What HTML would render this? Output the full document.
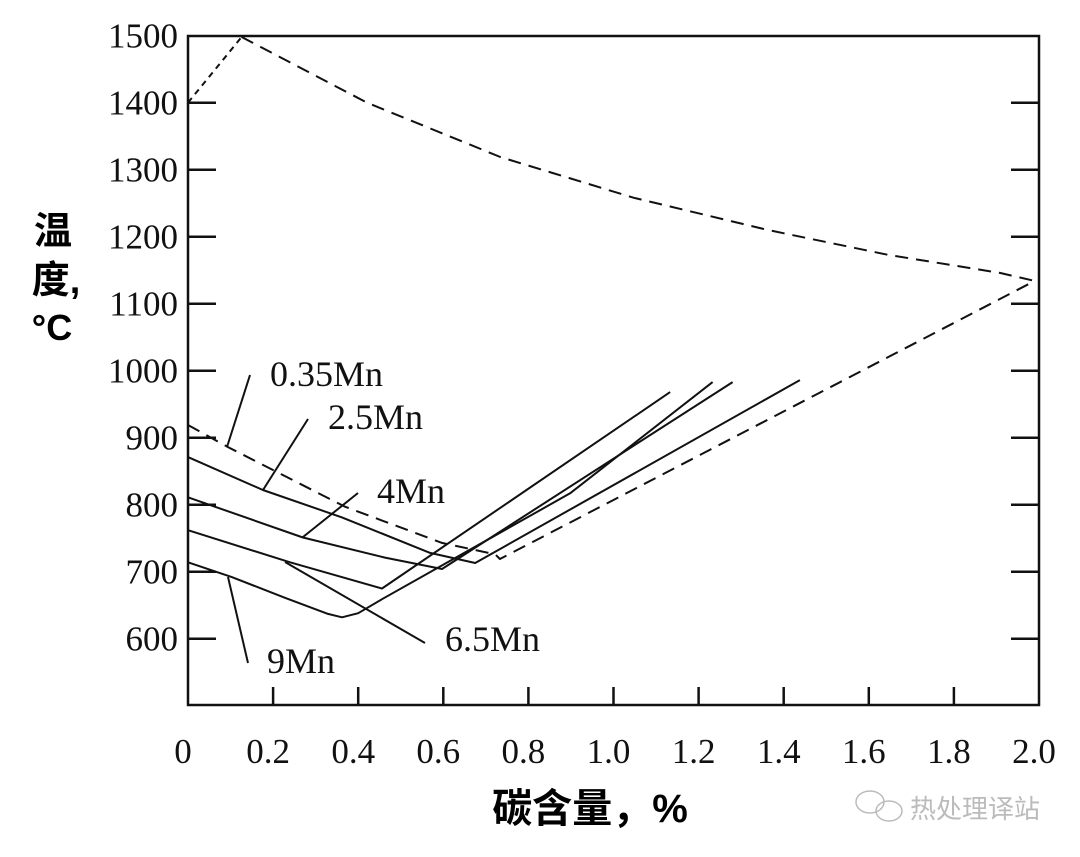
<!DOCTYPE html>
<html><head><meta charset="utf-8"><style>
html,body{margin:0;padding:0;background:#fff;}
svg{display:block;}
.tk{font-family:"Liberation Serif",serif;font-size:35px;fill:#111;}
.lb{font-family:"Liberation Serif",serif;font-size:36px;fill:#111;}
.ti{font-family:"Liberation Sans","Noto Sans CJK SC",sans-serif;font-weight:bold;fill:#000;}
</style></head><body>
<svg id="chart" width="1080" height="857" viewBox="0 0 1080 857" xmlns="http://www.w3.org/2000/svg">
<rect x="188" y="36" width="851" height="669" fill="none" stroke="#111" stroke-width="2.5"/>
<g id="ticks"></g>
<g id="series"></g>
<g stroke="#111" stroke-width="2" fill="none">
<line x1="250" y1="375" x2="227" y2="447"/>
<line x1="308" y1="419" x2="263" y2="490"/>
<line x1="358" y1="493" x2="303" y2="537"/>
<line x1="285" y1="562" x2="425" y2="643"/>
<line x1="228" y1="577" x2="248" y2="663"/>
</g>
<text class="lb" x="270" y="386">0.35Mn</text>
<text class="lb" x="328" y="429">2.5Mn</text>
<text class="lb" x="377" y="503">4Mn</text>
<text class="lb" x="445" y="651">6.5Mn</text>
<text class="lb" x="267" y="673">9Mn</text>
<g>
<text class="ti" x="53" y="244" font-size="38" text-anchor="middle">温</text>
<text class="ti" x="56" y="293" font-size="38" text-anchor="middle">度,</text>
<text class="ti" x="52" y="340" font-size="36" text-anchor="middle">°C</text>
</g>
<text class="ti" x="590" y="822" font-size="40" text-anchor="middle">碳含量，%</text>
<g fill="none" stroke="#bbb" stroke-width="1.5">
<ellipse cx="870" cy="802" rx="14" ry="11"/>
<ellipse cx="889" cy="811" rx="13" ry="10"/>
<text x="910" y="818" font-family="'Noto Sans CJK SC',sans-serif" font-size="26" fill="#bbb" stroke="none">热处理译站</text>
</g>
</svg>
<script>
var yTicks=[1500,1400,1300,1200,1100,1000,900,800,700,600];
var xTickLabels=["0","0.2","0.4","0.6","0.8","1.0","1.2","1.4","1.6","1.8","2.0"];
var xTickVals=[0,0.2,0.4,0.6,0.8,1.0,1.2,1.4,1.6,1.8,2.0];
var liqC=[0,0.126,0.421,0.734,1.048,1.363,1.645,1.908,1.99];
var liqT=[1400,1498,1400,1319,1258,1210,1173,1146,1134];
var mn035C=[0,0.094,0.369,0.597,0.722,0.733,1.99];
var mn035T=[919,886,797,743,726,719,1134];
var mn25C=[0,0.176,0.362,0.569,0.675,1.438];
var mn25T=[871,822,781,728,713,986];
var mn4C=[0,0.270,0.463,0.597,1.280];
var mn4T=[811,751,721,704,983];
var mn65C=[0,0.240,0.456,1.133];
var mn65T=[762,714,675,968];
var mn9C=[0,0.103,0.228,0.329,0.362,0.400,0.456,0.898,1.233];
var mn9T=[714,692,661,637,632,638,659,817,983];
function X(c){return 188+c*425.5;}
function Y(t){return 102.7+(1400-t)*0.67;}
var NS="http://www.w3.org/2000/svg";
var tg=document.getElementById('ticks');
yTicks.forEach(function(t){
  var y=Y(t);
  var tx=document.createElementNS(NS,'text');
  tx.setAttribute('class','tk');tx.setAttribute('x',178);tx.setAttribute('y',y+12);tx.setAttribute('text-anchor','end');
  tx.textContent=t;
  
  
  tg.appendChild(tx);
  if(t<1500){
    [[188,216],[1011,1039]].forEach(function(p){
      var l=document.createElementNS(NS,'line');
      l.setAttribute('x1',p[0]);l.setAttribute('x2',p[1]);l.setAttribute('y1',y);l.setAttribute('y2',y);
      l.setAttribute('stroke','#111');l.setAttribute('stroke-width','2.5');
      
      
      tg.appendChild(l);
    });
  }
});
xTickVals.forEach(function(v,i){
  var x=X(v);
  if(v>0&&v<2){
    var l=document.createElementNS(NS,'line');
    l.setAttribute('x1',x);l.setAttribute('x2',x);l.setAttribute('y1',705);l.setAttribute('y2',687);
    l.setAttribute('stroke','#111');l.setAttribute('stroke-width','2.5');
    
    
    tg.appendChild(l);
  }
  var tx=document.createElementNS(NS,'text');
  tx.setAttribute('class','tk');tx.setAttribute('x',x-5);tx.setAttribute('y',763);tx.setAttribute('text-anchor','middle');
  tx.textContent=xTickLabels[i];
  
  
  tg.appendChild(tx);
});
var sg=document.getElementById('series');
function draw(cs,ts,name,dash){
  var d='';
  for(var i=0;i<cs.length;i++){d+=(i?'L':'M')+X(cs[i]).toFixed(1)+' '+Y(ts[i]).toFixed(1);}
  var p=document.createElementNS(NS,'path');
  p.setAttribute('d',d);p.setAttribute('fill','none');p.setAttribute('stroke','#111');
  p.setAttribute('stroke-width','2');p.setAttribute('stroke-linejoin','round');
  if(dash)p.setAttribute('stroke-dasharray',dash);
  
  
  sg.appendChild(p);
}
draw(liqC.slice(0,2),liqT.slice(0,2),'delta-line','6 5');
draw(liqC.slice(1),liqT.slice(1),'liquidus-line','13 8');
draw(mn035C,mn035T,'line-0.35mn','13 8');
draw(mn25C,mn25T,'line-2.5mn',null);
draw(mn4C,mn4T,'line-4mn',null);
draw(mn65C,mn65T,'line-6.5mn',null);
draw(mn9C,mn9T,'line-9mn',null);
</script>
</body></html>
